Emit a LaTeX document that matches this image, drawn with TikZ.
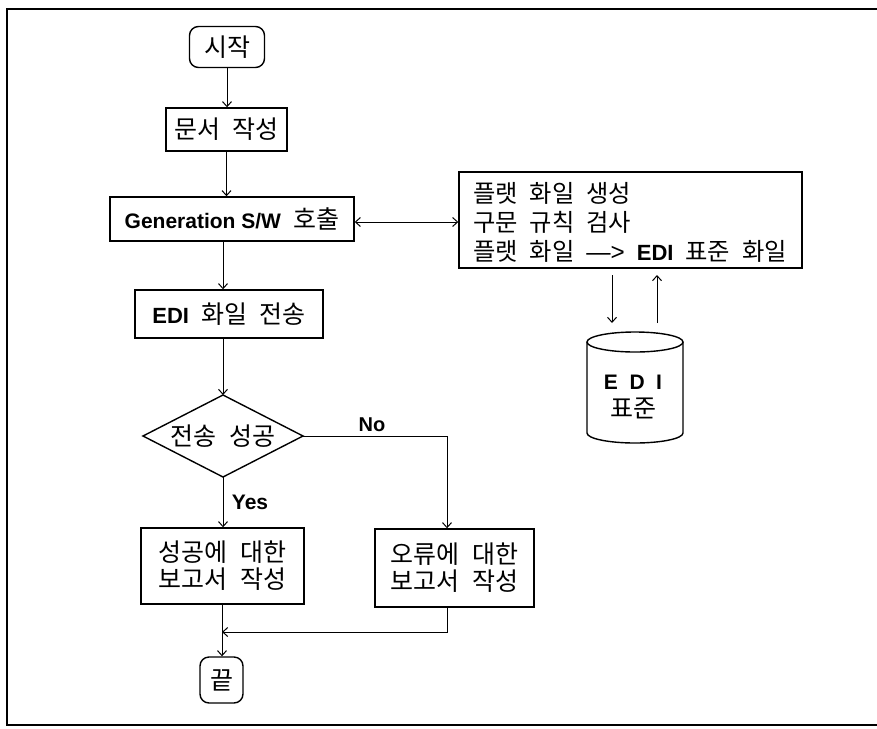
\documentclass[tikz,border=0pt]{standalone}
\usepackage{fontspec}
\setmainfont{Liberation Sans}
\newfontfamily\kr[WordSpace=2.2]{Noto Sans CJK KR}
\usetikzlibrary{arrows.meta}
\begin{document}
\begin{tikzpicture}[x=1pt,y=1pt,
  >={Straight Barb[length=5pt,width=9pt]},
  box/.style={draw, line width=1.4pt, inner sep=0pt, font=\kr\fontsize{25}{27}\selectfont, align=center},
  term/.style={box, rounded corners=9pt},
  conn/.style={line width=1pt, ->},
  lbl/.style={font=\bfseries\fontsize{21}{24}\selectfont}
]
\useasboundingbox (0,0) rectangle (877,-728);
\draw[line width=1.4pt] (877,-9) -- (7,-9) -- (7,-725) -- (877,-725);

\node[term, minimum width=75, minimum height=41] (start) at (227,-47) {시작};
\node[box, minimum width=121, minimum height=43] (doc) at (226.5,-129.5) {문서 작성};
\node[box, minimum width=244, minimum height=44] (gen) at (232,-219) {{\rmfamily\bfseries\fontsize{21}{24}\selectfont Generation S/W} 호출};
\node[box, minimum width=188, minimum height=48] (edi) at (229,-314) {{\rmfamily\bfseries\fontsize{22}{24}\selectfont EDI} 화일 전송};

\node[box, draw=none, align=left, font=\kr\fontsize{24.3}{29}\selectfont] (rbt) at (630,-222) {플랫 화일 생성\\구문 규칙 검사\\플랫 화일 {\rmfamily —>} {\rmfamily\bfseries\fontsize{22}{24}\selectfont EDI} 표준 화일};
\node[box, minimum width=343, minimum height=96] (rb) at (630.5,-220) {};

% database cylinder
\draw[line width=1.4pt] (587,-342) -- (587,-433) arc[start angle=180,end angle=360,x radius=48,y radius=10] -- (683,-342);
\draw[line width=1.4pt] (635,-342) ellipse [x radius=48,y radius=10];
\node[align=center, inner sep=0pt, font=\kr\fontsize{25}{28}\selectfont] (db) at (633,-397) {{\rmfamily\bfseries\fontsize{21}{24}\selectfont E\hspace{0.55em}D\hspace{0.55em}I}\\표준};

% decision diamond
\coordinate (dtop) at (223,-395);
\coordinate (dright) at (303,-436);
\coordinate (dbot) at (223,-477);
\coordinate (dleft) at (143,-436);
\draw[line width=1.4pt] (dtop) -- (dright) -- (dbot) -- (dleft) -- cycle;
\node[font=\kr\fontsize{25}{27}\selectfont, inner sep=0pt] (dec) at (223,-436) {전송 성공};

\node[box, minimum width=163, minimum height=76] (succ) at (222.5,-566) {성공에 대한\\보고서 작성};
\node[box, minimum width=159, minimum height=78] (err) at (454.5,-568) {오류에 대한\\보고서 작성};
\node[term, minimum width=43, minimum height=46] (end) at (221.5,-680) {끝};

\node[lbl] (yes) at (250,-502) {Yes};
\node[lbl, font=\bfseries\fontsize{20}{24}\selectfont] (no) at (372,-425) {No};

% helper coordinates
\coordinate (ly) at (0,-222);
\coordinate (nx) at (447,-436);
\coordinate (m) at (222,-632);
\coordinate (a1) at (612,-275);
\coordinate (a2) at (612,-323);
\coordinate (b1) at (657,-323);
\coordinate (b2) at (657,-275);

% connectors
\draw[conn] (start.south) -- (start.south |- doc.north);
\draw[conn] (doc.south) -- (doc.south |- gen.north);
\draw[conn] (dtop |- gen.south) -- (dtop |- edi.north);
\draw[conn] (dtop |- edi.south) -- (dtop);
\draw[line width=1pt, <->] (gen.east |- ly) -- (rb.west |- ly);
\draw[conn] (a1) -- (a2);
\draw[conn] (b1) -- (b2);
\draw[conn] (dright) -- (nx) -- (nx |- err.north);
\draw[conn] (dbot) -- (dbot |- succ.north);
\draw[conn] (m |- succ.south) -- (m |- end.north);
\draw[conn] (nx |- err.south) |- (m);
\end{tikzpicture}
\end{document}
